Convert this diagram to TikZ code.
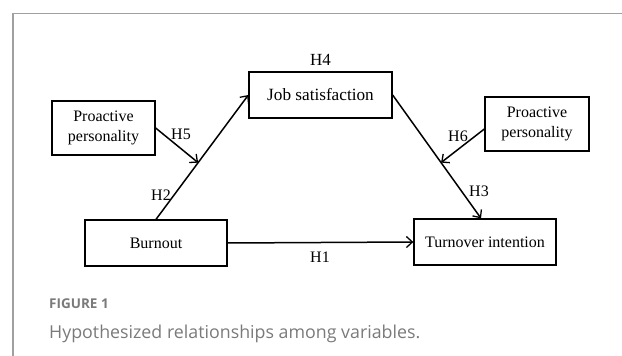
\documentclass[tikz,border=0pt]{standalone}
\usepackage{fontspec}
\setmainfont{Liberation Serif}
\newfontfamily\capfont{Open Sans}
\usetikzlibrary{arrows.meta,calc}
\definecolor{framegray}{HTML}{A0A0A0}
\definecolor{capgray}{HTML}{7A7A7A}
\begin{document}
\begin{tikzpicture}[x=1pt,y=-1pt,
  box/.style={draw=black,line width=1.3pt,rectangle,inner sep=0pt,align=center,font=\fontsize{16}{20}\selectfont},
  conn/.style={line width=1.5pt,-{Straight Barb[length=6pt,width=11pt,line width=1.3pt]}},
  hlab/.style={inner sep=0pt,font=\fontsize{16}{19}\selectfont}]
\useasboundingbox (0,0) rectangle (622,356);
% frame
\draw[framegray,line width=1.4pt] (13,356) -- (13,13.3) -- (622,13.3);
% boxes
\node[box,minimum width=143pt,minimum height=46pt,font=\fontsize{17.2}{20}\selectfont] (job) at (320.5,95) {Job satisfaction};
\node[box,minimum width=103pt,minimum height=54pt] (lp) at (103.5,128) {Proactive\\personality};
\node[box,minimum width=104pt,minimum height=54pt] (rp) at (537,124) {Proactive\\personality};
\node[box,minimum width=142pt,minimum height=46pt] (burn) at (156,243) {Burnout};
\node[box,minimum width=142pt,minimum height=46pt] (turn) at (485,242) {Turnover intention};
% anchor points
\coordinate (tn) at ($(turn.north)+(-4,0)$);
\coordinate (rs) at ($(rp.west)+(0,5)$);
\coordinate (m1) at ($(burn.north)!0.456!(job.west)$);
\coordinate (m2) at ($(job.east)!0.548!(tn)$);
% connectors
\draw[conn] (burn.north) -- (job.west);
\draw[conn] (job.east) -- (tn);
\draw[conn] (burn.east) -- (turn.west);
\draw[conn] (lp.east) -- (m1);
\draw[conn] (rs) -- (m2);
% labels
\node[hlab,font=\fontsize{17}{19}\selectfont] (h4) at (320.5,60) {H4};
\node[hlab] (h5) at (181,134) {H5};
\node[hlab] (h6) at (458,136) {H6};
\node[hlab] (h2) at (161,195) {H2};
\node[hlab] (h3) at (479,191) {H3};
\node[hlab] (h1) at (320,257) {H1};
% caption
\node[anchor=base west,inner sep=0pt,text=capgray,font=\capfont\bfseries\fontsize{13.5}{16}\selectfont] (fig) at (49,308) {FIGURE 1};
\node[anchor=base west,inner sep=0pt,text=capgray,font=\capfont\fontsize{17.8}{21}\selectfont] (cap) at (49,338) {Hypothesized relationships among variables.};
\end{tikzpicture}
\end{document}
